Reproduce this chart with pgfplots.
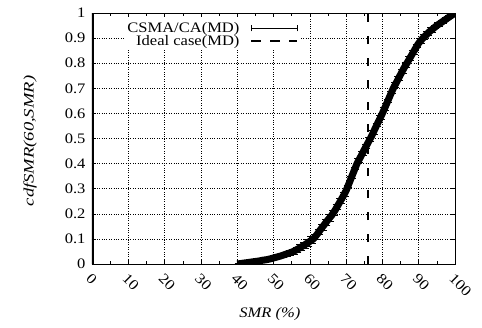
\documentclass[border=0pt]{standalone}
\usepackage{pgfplots}
\pgfplotsset{compat=1.18}
\usepackage{fontspec}
\setmainfont{Liberation Serif}
\newfontfamily\tfont[FakeStretch=1.14]{Liberation Serif}
\newfontfamily\yfont[FakeStretch=1.28]{Liberation Serif}
\pgfplotstableread{
x y ey
40 0.000 0.004
41 0.002 0.004
42 0.004 0.005
43 0.006 0.005
44 0.008 0.006
45 0.010 0.006
46 0.012 0.007
47 0.015 0.007
48 0.017 0.008
49 0.020 0.008
50 0.024 0.009
51 0.028 0.009
52 0.032 0.010
53 0.037 0.011
54 0.042 0.012
55 0.047 0.013
56 0.054 0.014
57 0.062 0.015
58 0.071 0.016
59 0.080 0.017
60 0.090 0.018
61 0.100 0.019
62 0.118 0.020
63 0.138 0.021
64 0.157 0.022
65 0.176 0.022
66 0.193 0.022
67 0.215 0.022
68 0.240 0.022
69 0.265 0.022
70 0.292 0.022
71 0.328 0.022
72 0.364 0.022
73 0.400 0.022
74 0.427 0.022
75 0.455 0.022
76 0.482 0.022
77 0.509 0.022
78 0.540 0.022
79 0.570 0.022
80 0.600 0.022
81 0.633 0.022
82 0.667 0.022
83 0.700 0.022
84 0.727 0.022
85 0.755 0.022
86 0.782 0.022
87 0.806 0.021
88 0.831 0.020
89 0.856 0.019
90 0.880 0.018
91 0.897 0.017
92 0.912 0.016
93 0.926 0.015
94 0.938 0.014
95 0.950 0.013
96 0.960 0.012
97 0.970 0.011
98 0.980 0.009
99 0.990 0.007
100 1.000 0.005
}\csmadata
\pgfplotstableread{
x y
76 0
76 1
}\idealdata
\begin{document}
\begin{tikzpicture}
\begin{axis}[
  at={(0,0)}, anchor=south west,
  scale only axis, width=363pt, height=251pt,
  xmin=0, xmax=100, ymin=0, ymax=1,
  xtick={0,10,...,100}, ytick={0,0.1,...,1},
  minor xtick={5,15,...,95},
  yticklabels={0,0.1,0.2,0.3,0.4,0.5,0.6,0.7,0.8,0.9,1},
  tick align=inside, major tick length=4pt, minor tick length=3pt,
  tick style={black, line width=0.5pt},
  grid=major,
  major grid style={black, dotted, line width=0.5pt},
  axis line style={black, line width=0.8pt},
  /pgf/number format/assume math mode=true,
  tick label style={font=\tfont\fontsize{14.5}{14.5}\selectfont},
  xticklabel style={rotate=-45, anchor=base west, yshift=-16pt, xshift=3pt},
  yticklabel style={xshift=-3pt},
  xlabel={\textit{SMR (\%)}},
  ylabel={\textit{cdfSMR(60,SMR)}},
  xlabel style={font=\tfont\fontsize{14.5}{14.5}\selectfont, at={(rel axis cs:0.49,0)}, anchor=center, yshift=-50pt},
  ylabel style={font=\yfont\fontsize{14.5}{14.5}\selectfont, at={(rel axis cs:0,0.49)}, anchor=center, yshift=62pt},
  legend style={at={(rel axis cs:0.572,0.975)}, anchor=north east, draw=none, fill=white,
    font=\tfont\fontsize{14.5}{14.5}\selectfont, row sep=-3pt, inner sep=1pt},
  legend plot pos=right,
  legend cell align=right,
]
\addplot[black, line width=7pt, line join=round,
  error bars/.cd, y dir=both, y explicit,
  error bar style={black, line width=0.8pt},
  error mark options={black, mark size=2.5pt, rotate=90, line width=0.8pt},
  /pgfplots/legend image code/.code={
  \path[draw=none, fill=none] (0pt,-3pt) rectangle (10pt,3pt);
  \draw[black, line width=0.8pt] (10pt,0pt) -- (56pt,0pt);
  \draw[black, line width=0.8pt] (10pt,-3pt) -- (10pt,3pt);
  \draw[black, line width=0.8pt] (56pt,-3pt) -- (56pt,3pt);}]
  table[x=x, y=y, y error=ey] {\csmadata};
\addlegendentry{CSMA/CA(MD)}
\addplot[black, line width=2.5pt, dash pattern=on 8pt off 14pt,
  legend image code/.code={
  \path[draw=none, fill=none] (0pt,-3pt) rectangle (10pt,3pt);
  \draw[black, line width=2pt, dash pattern=on 10pt off 9pt] (10pt,0pt) -- (56pt,0pt);}]
  table[x=x, y=y] {\idealdata};
\addlegendentry{Ideal case(MD)}
\draw[black, line width=3.5pt] (rel axis cs:0,0) -- (rel axis cs:0,1);
\end{axis}
\pgfresetboundingbox
\path (-92pt,-63pt) rectangle (390pt,264pt);
\end{tikzpicture}
\end{document}
